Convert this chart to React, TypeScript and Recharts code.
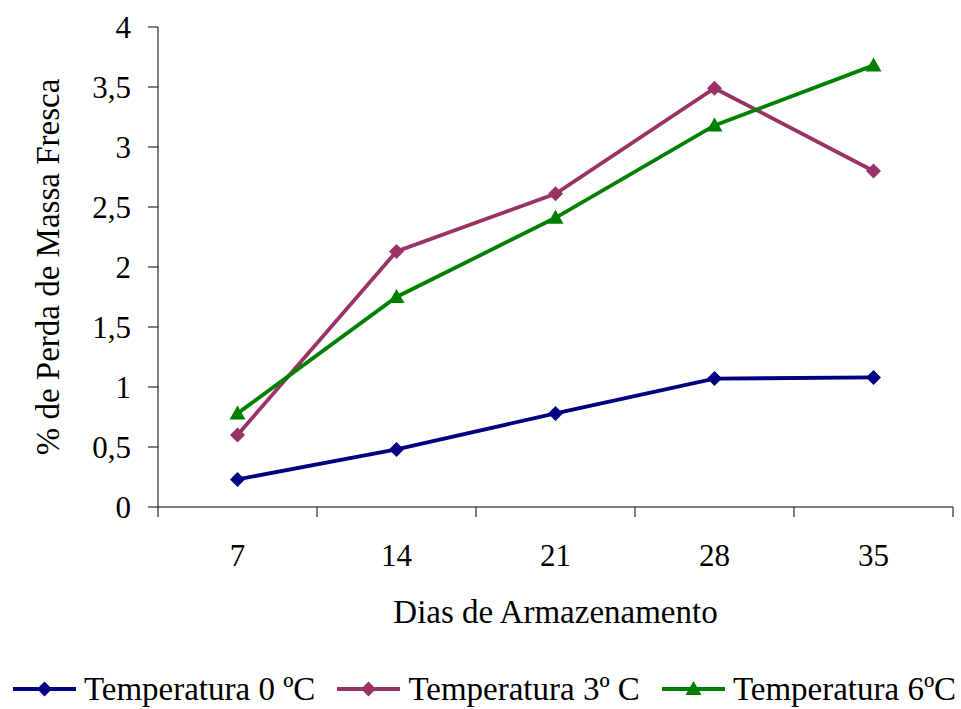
import React from "react";
import { LineChart, Line, XAxis, YAxis, Legend } from "recharts";

// Storage days and mass-loss (%) per storage temperature
const days = [7, 14, 21, 28, 35];
const temp0 = [0.23, 0.48, 0.78, 1.07, 1.08];
const temp3 = [0.6, 2.13, 2.61, 3.49, 2.8];
const temp6 = [0.78, 1.75, 2.41, 3.18, 3.68];
const yTicks = [0, 0.5, 1, 1.5, 2, 2.5, 3, 3.5, 4];

const seriesNames = ["Temperatura 0 ºC", "Temperatura 3º C", "Temperatura 6ºC"];
const seriesColors = ["#000080", "#993366", "#008000"];
const seriesShapes = ["diamond", "diamond", "triangle"];

const data = days.map((d, i) => ({
  day: d,
  t0: temp0[i],
  t3: temp3[i],
  t6: temp6[i],
}));

// boundaries between day categories carry the tick marks
const step = days[1] - days[0];
const boundaries = [...days.map((d) => d - step / 2), days[days.length - 1] + step / 2];
const xTicks = [...boundaries, ...days].sort((a, b) => a - b);

const FONT = "'Liberation Serif', 'Times New Roman', serif";
const LINE_W = 3.8;

const Marker = ({ cx, cy, color, shape }: any) => {
  if (cx == null || cy == null) return null;
  if (shape === "triangle") {
    const s = 8;
    return (
      <polygon
        points={`${cx},${cy - s} ${cx + s},${cy + s * 0.75} ${cx - s},${cy + s * 0.75}`}
        fill={color}
      />
    );
  }
  const r = 7.5;
  return (
    <polygon points={`${cx},${cy - r} ${cx + r},${cy} ${cx},${cy + r} ${cx - r},${cy}`} fill={color} />
  );
};

const makeDot = (color: string, shape: string) => (p: any) =>
  <Marker key={`dot-${p.index}`} cx={p.cx} cy={p.cy} color={color} shape={shape} />;

const XTick = (props: any) => {
  const { x, y, payload } = props;
  if (days.includes(payload.value)) {
    return (
      <text x={x} y={y + 37} dy="0.71em" textAnchor="middle" fontSize={31} fontFamily={FONT} fill="#000">
        {payload.value}
      </text>
    );
  }
  return <line x1={x} y1={y} x2={x} y2={y + 10} stroke="#000" strokeWidth={1} />;
};

const LegendContent = () => (
  <div
    style={{
      display: "flex",
      justifyContent: "center",
      alignItems: "center",
      height: 40,
      paddingLeft: 16,
      fontFamily: FONT,
      fontSize: 33,
      color: "#000",
      whiteSpace: "nowrap",
    }}
  >
    {seriesNames.map((name, i) => (
      <div key={name} style={{ display: "flex", alignItems: "center", marginRight: i < 2 ? 22 : 0 }}>
        <svg width={63} height={20} style={{ marginRight: 8 }}>
          <line x1={0} y1={10} x2={63} y2={10} stroke={seriesColors[i]} strokeWidth={LINE_W} />
          <Marker cx={31.5} cy={10} color={seriesColors[i]} shape={seriesShapes[i]} />
        </svg>
        <span>{name}</span>
      </div>
    ))}
  </div>
);

export default function App() {
  return (
    <div style={{ position: "absolute", left: 0, top: 0, background: "#fff" }}>
      <LineChart width={961} height={709} data={data} margin={{ top: 27, right: 8, left: 0, bottom: 0 }}>
        <XAxis
          dataKey="day"
          type="number"
          domain={[boundaries[0], boundaries[boundaries.length - 1]]}
          ticks={xTicks}
          interval={0}
          tickLine={false}
          tickSize={0}
          tickMargin={0}
          tick={<XTick />}
          axisLine={{ stroke: "#000", strokeWidth: 1 }}
          height={162}
          label={{
            value: "Dias de Armazenamento",
            position: "insideBottom",
            offset: 46,
            style: { fontSize: 33, fontFamily: FONT, fill: "#000" },
          }}
        />
        <YAxis
          domain={[0, 4]}
          ticks={yTicks}
          interval={0}
          width={158}
          tickSize={10}
          tickMargin={17}
          tickFormatter={(v: number) => String(v).replace(".", ",")}
          tick={{ fontSize: 31, fontFamily: FONT, fill: "#000" }}
          tickLine={{ stroke: "#000" }}
          axisLine={{ stroke: "#000", strokeWidth: 1 }}
          label={{
            value: "% de Perda de Massa Fresca",
            angle: -90,
            position: "insideLeft",
            offset: 47,
            style: { fontSize: 33, fontFamily: FONT, fill: "#000", textAnchor: "middle" },
          }}
        />
        <Legend verticalAlign="bottom" height={40} content={<LegendContent />} />
        <Line
          dataKey="t0"
          name={seriesNames[0]}
          stroke={seriesColors[0]}
          strokeWidth={LINE_W}
          dot={makeDot(seriesColors[0], seriesShapes[0])}
          isAnimationActive={false}
        />
        <Line
          dataKey="t3"
          name={seriesNames[1]}
          stroke={seriesColors[1]}
          strokeWidth={LINE_W}
          dot={makeDot(seriesColors[1], seriesShapes[1])}
          isAnimationActive={false}
        />
        <Line
          dataKey="t6"
          name={seriesNames[2]}
          stroke={seriesColors[2]}
          strokeWidth={LINE_W}
          dot={makeDot(seriesColors[2], seriesShapes[2])}
          isAnimationActive={false}
        />
      </LineChart>
    </div>
  );
}
